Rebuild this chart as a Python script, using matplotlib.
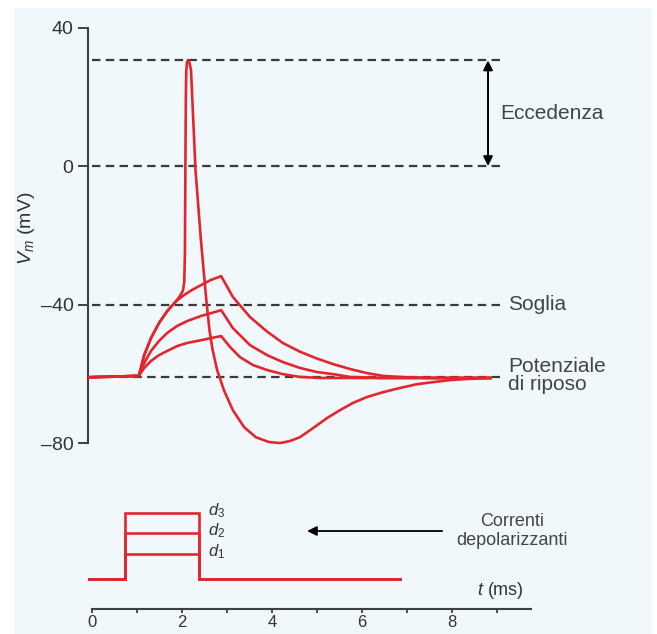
import matplotlib
matplotlib.use("Agg")
import matplotlib.pyplot as plt
from matplotlib.patches import Rectangle

plt.rcParams['font.family'] = ['Liberation Sans', 'DejaVu Sans']
plt.rcParams['mathtext.fontset'] = 'custom'
plt.rcParams['mathtext.it'] = 'Liberation Sans:italic'
plt.rcParams['mathtext.rm'] = 'Liberation Sans'

# membrane potential (mV) vs time (ms)
t_d1 = [-0.09, 1.04, 1.16, 1.31, 1.49, 1.67, 1.89, 2.11, 2.42, 2.64, 2.87,
        3.07, 3.29, 3.58, 3.89, 4.24, 4.62, 5.07, 8.85]
v_d1 = [-61, -60.6, -58.3, -56.3, -54.6, -53.4, -52.0, -51.1, -50.3, -49.7, -49.1,
        -52.3, -55.2, -57.5, -58.9, -60.1, -60.9, -61.2, -61.2]

t_d2 = [-0.09, 1.04, 1.16, 1.31, 1.49, 1.67, 1.89, 2.11, 2.42, 2.64, 2.87,
        3.13, 3.51, 3.89, 4.24, 4.62, 5.00, 5.36, 5.73, 6.40, 8.85]
v_d2 = [-61, -60.6, -56.9, -53.4, -50.5, -48.2, -46.2, -44.8, -43.3, -42.5, -41.6,
        -46.8, -51.7, -54.6, -56.6, -58.3, -59.5, -60.1, -60.9, -61.2, -61.2]

t_d3 = [-0.09, 1.04, 1.16, 1.31, 1.49, 1.67, 1.87, 2.04, 2.22, 2.42, 2.64, 2.87,
        3.13, 3.51, 3.89, 4.24, 4.62, 5.00, 5.36, 5.73, 6.11, 6.47, 6.84, 7.51, 8.85]
v_d3 = [-61, -60.6, -54.6, -49.7, -45.3, -41.9, -39.0, -37.3, -35.8, -34.4, -32.9, -31.8,
        -37.8, -43.6, -47.8, -51.1, -53.6, -55.6, -57.2, -58.6, -59.8, -60.6, -60.9, -61.2, -61.2]

t_ap = [-0.09, 1.04, 1.16, 1.31, 1.49, 1.67, 1.87, 1.95, 2.02, 2.05, 2.065, 2.075, 2.085, 2.095,
        2.11, 2.13, 2.15, 2.17, 2.20, 2.30, 2.42, 2.54, 2.61, 2.68, 2.78, 2.93, 3.13, 3.38, 3.64,
        3.93, 4.18, 4.40, 4.62, 4.91, 5.22, 5.51, 5.80, 6.11, 6.47, 6.84, 7.22, 7.58, 7.96, 8.33, 8.85]
v_ap = [-61, -60.6, -54.6, -49.7, -45.3, -41.9, -39.0, -37.6, -36.0, -33.5, -25.0, 0.0, 20.0, 27.5,
        29.8, 30.6, 30.4, 29.6, 27.7, -1.2, -21.4, -38.7, -47.4, -53.1, -58.9, -64.7, -70.5, -75.4, -78.3,
        -79.7, -80.0, -79.4, -78.3, -75.7, -72.8, -70.5, -68.4, -66.7, -65.3, -64.1, -63.0, -62.4, -61.8, -61.5, -61.2]

v_peak = 30.5
v_zero = 0
v_soglia = -40
v_rest = -61
y_ticks = [40, 0, -40, -80]

# depolarizing current steps
t_pulse = [-0.11, 0.73, 0.73, 2.38, 2.38, 6.84]
amp_levels = {'d_1': 1.0, 'd_2': 1.84, 'd_3': 2.64}
x_ticks = [0, 2, 4, 6, 8]

red = '#e3262e'
dash_col = '#3a3a3a'

fig = plt.figure(figsize=(6.57, 6.34), dpi=100)
fig.patch.set_facecolor('white')
fig.patches.append(Rectangle((14/657, 0), (652-14)/657, 1 - 8/634, transform=fig.transFigure,
                             facecolor='#f1f8fc', edgecolor='none', zorder=-10))

ax = fig.add_axes([0.1332, 0.2793, 0.7055, 0.6882])
ax.set_facecolor('none')
ax.set_xlim(-0.1, 10.2)
ax.set_ylim(-84, 42)

for yv in [v_peak, v_zero, v_soglia, v_rest]:
    ax.plot([0, 9.1], [yv, yv], ls=(0, (3.8, 2.4)), color=dash_col, lw=1.6, zorder=1)

for tt, vv in [(t_d1, v_d1), (t_d2, v_d2), (t_d3, v_d3), (t_ap, v_ap)]:
    ax.plot(tt, vv, color=red, lw=1.9, solid_joinstyle='round', zorder=3)

for s in ['top', 'right', 'bottom']:
    ax.spines[s].set_visible(False)
ax.spines['left'].set_bounds(-80, 40)
ax.spines['left'].set_linewidth(1.5)
ax.spines['left'].set_color('#404040')
ax.set_xticks([])
ax.set_yticks(y_ticks)
ax.set_yticklabels(['40', '0', '\u201340', '\u201380'])
ax.tick_params(axis='y', length=7, width=1.4, color='#404040', pad=3, labelsize=14, labelcolor='#333333')
ax.set_ylabel(r'$V_m$ (mV)', fontsize=14, color='#333333')
ax.yaxis.set_label_coords(-0.108, 0.525)

ax.annotate('', xy=(8.8, v_peak), xytext=(8.8, v_zero),
            arrowprops=dict(arrowstyle='<|-|>', color='black', lw=1.4, mutation_scale=14,
                            shrinkA=0, shrinkB=0))
ax.text(9.07, 15.3, 'Eccedenza', fontsize=15, color='#444444', va='center', ha='left')
ax.text(9.24, -40, 'Soglia', fontsize=15, color='#444444', va='center', ha='left')
ax.text(9.24, -60.4, 'Potenziale\ndi riposo', fontsize=15, color='#444444', va='center', ha='left',
        linespacing=0.95)

ax2 = fig.add_axes([0.1332, 0.0394, 0.7055, 0.1735])
ax2.set_facecolor('none')
ax2.set_xlim(-0.1, 10.2)
ax2.set_ylim(-1.2, 3.2)
for name, lev in amp_levels.items():
    ax2.plot(t_pulse, [0, 0, lev, lev, 0, 0], color=red, lw=1.9, solid_joinstyle='miter')
    ax2.text(2.58, lev - 0.08, '$' + name + '$', fontsize=12, color='#333333', ha='left', va='baseline')

ax2.annotate('', xy=(4.78, 1.92), xytext=(7.78, 1.92),
             arrowprops=dict(arrowstyle='-|>', color='black', lw=1.3, mutation_scale=14,
                             shrinkA=0, shrinkB=0))
ax2.text(9.33, 1.92, 'Correnti\ndepolarizzanti', fontsize=13, color='#444444', ha='center', va='center',
         linespacing=1.15, clip_on=False)
ax2.text(9.07, -0.44, r'$t$ (ms)', fontsize=13, color='#333333', ha='center', va='center')

for s in ['top', 'right', 'left']:
    ax2.spines[s].set_visible(False)
ax2.spines['bottom'].set_bounds(0, 9.75)
ax2.spines['bottom'].set_linewidth(1.5)
ax2.spines['bottom'].set_color('#404040')
ax2.set_yticks([])
ax2.set_xticks(x_ticks)
ax2.set_xticks([1, 3, 5, 7, 9], minor=True)
ax2.tick_params(axis='x', which='both', length=3, width=1.3, color='#404040', pad=1,
                labelsize=12, labelcolor='#333333')

fig.savefig('out.png', dpi=100)
